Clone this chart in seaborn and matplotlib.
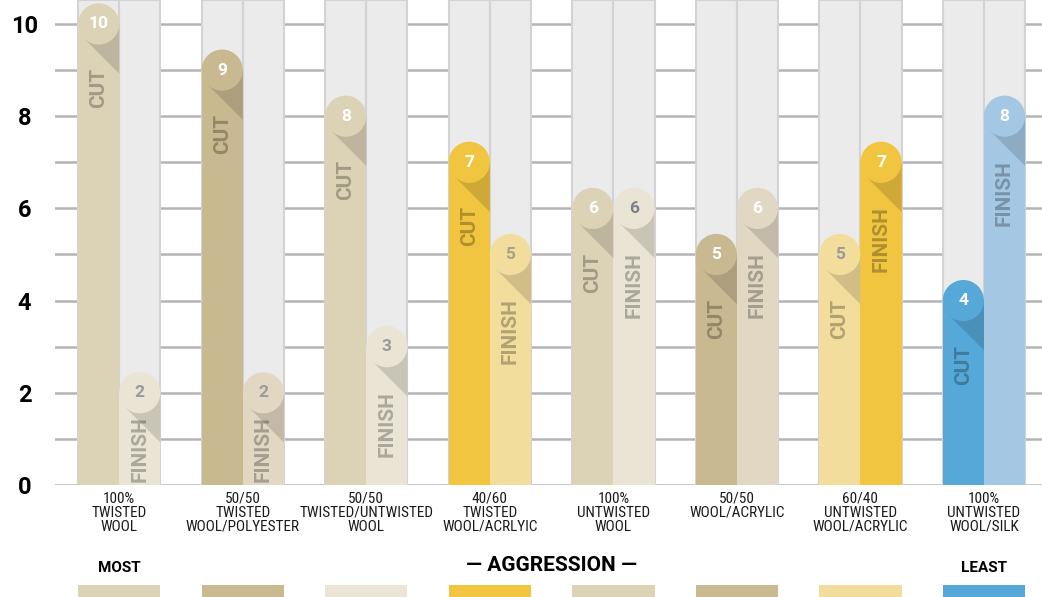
import numpy as np
import pandas as pd
import seaborn as sns
import matplotlib.pyplot as plt
import matplotlib.colors as mcolors
from matplotlib.patches import Ellipse, Polygon
from matplotlib.transforms import blended_transform_factory

materials = ["100%\nTWISTED\nWOOL", "50/50\nTWISTED\nWOOL/POLYESTER",
             "50/50\nTWISTED/UNTWISTED\nWOOL", "40/60\nTWISTED\nWOOL/ACRLYIC",
             "100%\nUNTWISTED\nWOOL", "50/50\nWOOL/ACRYLIC",
             "60/40\nUNTWISTED\nWOOL/ACRYLIC", "100%\nUNTWISTED\nWOOL/SILK"]
cut = [10, 9, 8, 7, 6, 5, 5, 4]
finish = [2, 2, 3, 5, 6, 6, 7, 8]

cut_colors = ['#dcd3b6', '#c9b991', '#dcd3b6', '#f1c540',
              '#dcd3b6', '#c9b991', '#f2dd9c', '#55a8d8']
finish_colors = ['#e9e4d4', '#e1d7c3', '#e9e4d4', '#f2dd9c',
                 '#e9e4d4', '#e1d7c3', '#f1c540', '#a4c8e4']
cut_num_colors = ['white'] * 6 + ['#9a9a9e', 'white']
finish_num_colors = ['#9a9a9e', '#9a9a9e', '#9a9a9e', '#a8a08a',
                     '#7d7f88', 'white', 'white', 'white']
swatch_colors = ['#dcd3b6', '#c9b991', '#ebe5d6', '#f1c540',
                 '#dcd3b6', '#c9b991', '#f2dd9c', '#55a8d8']

df = pd.DataFrame({'material': materials * 2,
                   'stage': ['CUT'] * 8 + ['FINISH'] * 8,
                   'score': cut + finish})

W, H = 1042, 597
fig = plt.figure(figsize=(W / 100, H / 100), dpi=100)
ax = fig.add_axes([55 / W, 112 / H, 987 / W, 485 / H])

sns.barplot(data=df, x='material', y='score', hue='stage', order=materials,
            width=2 / 3, gap=0, saturation=1, legend=False, ax=ax, zorder=2)

xlim = (-0.52, 7.47)
ylim = (0, 10.52)
ax.set_xlim(*xlim)
ax.set_ylim(*ylim)
px_x = 987 / (xlim[1] - xlim[0])
px_y = 485 / (ylim[1] - ylim[0])

# grey background columns behind every bar
pos = np.arange(len(materials))
ax.bar(np.concatenate([pos - 1 / 6, pos + 1 / 6]), ylim[1], width=1 / 3,
       color='#ebebeb', edgecolor='#d3d3d6', linewidth=1.5, zorder=1)

renderer = fig.canvas.get_renderer()
stage_colors = [cut_colors, finish_colors]
num_colors = [cut_num_colors, finish_num_colors]
labels = ['CUT', 'FINISH']
for k, cont in enumerate(ax.containers[:2]):
    for i, p in enumerate(cont):
        c = stage_colors[k][i]
        p.set_facecolor(c)
        p.set_edgecolor('none')
        v = p.get_height()
        cx = p.get_x() + p.get_width() / 2
        rx = p.get_width() / 2
        ry = rx * px_x / px_y
        shade = tuple(np.array(mcolors.to_rgb(c)) * 0.86)
        ax.add_patch(Polygon([(cx - 0.707 * rx, v - 0.707 * ry),
                              (cx + rx, v - 2.414 * ry),
                              (cx + rx, v), (cx, v)],
                             closed=True, fc=shade, ec='none', zorder=3))
        ax.add_patch(Ellipse((cx, v), 2 * rx, 2 * ry, fc=c, ec='none', zorder=4))
        ax.text(cx, v, str(int(v)), ha='center', va='center', fontsize=12.5,
                fontweight='bold', family='Roboto', color=num_colors[k][i], zorder=5)
        t = ax.text(cx, v - 44 / px_y, labels[k], rotation=90, ha='center', va='top',
                    fontsize=15, fontweight='bold', family='Roboto',
                    color='black', alpha=0.27, zorder=5)
        # short bars: sit the word on the bar foot instead
        length = t.get_window_extent(renderer).height / px_y
        if v - 44 / px_y - length < 3 / px_y:
            t.set_y(3 / px_y)
            t.set_va('bottom')

ax.set_yticks([0, 2, 4, 6, 8, 10])
ax.set_yticks(range(11), minor=True)
ax.set_yticklabels(['0', '2', '4', '6', '8', '10'], fontsize=17,
                   fontweight='bold', family='Roboto', ha='center')
ax.tick_params(axis='y', which='both', length=0, pad=22)
ax.yaxis.grid(True, which='both', color='#b4b4b8', linewidth=1.8)
ax.set_axisbelow(True)

ax.set_xticks(pos)
ax.set_xticklabels(materials, fontsize=11,
                   family=['Roboto Condensed', 'Liberation Sans Narrow', 'Roboto'],
                   linespacing=1.0, color='#1a1a1a')
ax.tick_params(axis='x', length=0, pad=5)
ax.set_xlabel('')
ax.set_ylabel('')
for s in ax.spines.values():
    s.set_visible(False)

tr = blended_transform_factory(ax.transData, ax.transAxes)
ax.text(0, -0.171, 'MOST', transform=tr, ha='center', va='center',
        fontsize=11, fontweight='bold', family='Roboto')
ax.text(3.5, -0.167, '— AGGRESSION —', transform=tr, ha='center', va='center',
        fontsize=15, fontweight='bold', family='Roboto')
ax.text(7, -0.171, 'LEAST', transform=tr, ha='center', va='center',
        fontsize=11, fontweight='bold', family='Roboto')

# colour key strip along the bottom
ax2 = fig.add_axes([55 / W, 0, 987 / W, 12 / H])
ax2.bar(pos, 1, width=2 / 3, color=swatch_colors)
ax2.set_xlim(*xlim)
ax2.set_ylim(0, 1)
ax2.axis('off')

fig.savefig('out.png', dpi=100)
